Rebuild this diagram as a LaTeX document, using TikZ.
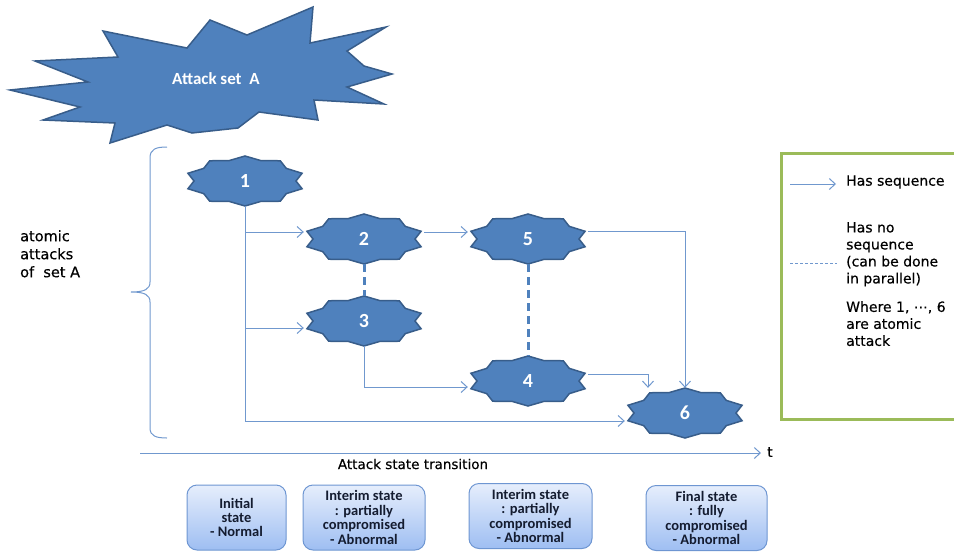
\documentclass[tikz,border=0pt]{standalone}
\usepackage{fontspec}
\usetikzlibrary{arrows.meta,calc}
\newfontfamily\carlito{Carlito}
\newfontfamily\dvs[FakeBold=0.4]{DejaVu Sans}
\definecolor{starblue}{RGB}{79,129,189}
\definecolor{stardark}{RGB}{56,93,138}
\definecolor{linkblue}{RGB}{112,152,206}
\definecolor{legendgreen}{RGB}{155,187,89}
\definecolor{boxtop}{RGB}{230,238,252}
\definecolor{boxbot}{RGB}{158,190,242}
\definecolor{boxedge}{RGB}{110,150,210}
\definecolor{boxtext}{RGB}{20,28,48}
\tikzset{
  conn/.style={draw=linkblue, line width=1pt, -{Straight Barb[length=6pt,width=11pt]}},
  par/.style={draw=starblue, line width=3pt, dash pattern=on 8pt off 5pt},
  legdash/.style={draw=linkblue, line width=1pt, dash pattern=on 3pt off 2pt},
  atomfill/.style={fill=starblue, draw=stardark, line width=1.5pt},
  atomnode/.style={rectangle, minimum width=120pt, minimum height=50pt, inner sep=0pt, text=white, font=\carlito\bfseries\fontsize{20}{22}\selectfont},
  burstfill/.style={fill=starblue, draw=stardark, line width=1.5pt},
  bursttext/.style={text=white, inner sep=0pt, font=\carlito\bfseries\fontsize{17}{20}\selectfont},
  statebox/.style={draw=boxedge, line width=1pt, rounded corners=10pt, top color=boxtop, bottom color=boxbot, minimum height=65pt, align=center, text=boxtext, inner sep=1pt, font=\carlito\bfseries\fontsize{14.5}{14.4}\selectfont},
  gulim/.style={font=\dvs\fontsize{14}{17}\selectfont, text=black, inner sep=0pt},
  bracestyle/.style={draw=linkblue, line width=1pt}
}
\newcommand\atomstar[3]{%
  \begin{scope}[shift={#2}]
    \filldraw[atomfill] (0,-25)
      \foreach \k [evaluate=\k as \rx using {isodd(\k)?51:60}, evaluate=\k as \ry using {isodd(\k)?21.5:25}] in {1,...,19} { -- ({\rx*cos(90+18*\k)},{-\ry*sin(90+18*\k)}) } -- cycle;
  \end{scope}
  \node[atomnode] (#1) at #2 {#3};
}
\begin{document}
\begin{tikzpicture}[x=1pt,y=-1pt]
\useasboundingbox (0,0) rectangle (954,555);

% attack set burst
\filldraw[burstfill] (10,90) -- (88,82) -- (35,61) -- (118,57) -- (103,31) -- (187,48) -- (210,20) -- (247,35) -- (313,7) -- (310,43) -- (386,27) -- (347,51) -- (364,66) -- (392,74) -- (347,87) -- (384,104) -- (314,100) -- (318,120) -- (259,112) -- (238,128) -- (192,133) -- (167,125) -- (110,143) -- (115,123) -- (43,120) -- (80,107) -- cycle;
\node[bursttext] (burst) at (216,79) {Attack set\hspace{4pt} A};

% brace
\draw[bracestyle] (167,147) .. controls (156,147) and (150,149) .. (150,158) -- (150,282) .. controls (150,289) and (145,292) .. (131,292) .. controls (145,292) and (150,295) .. (150,302) -- (150,428) .. controls (150,436) and (156,438) .. (167,438);
\node[gulim, font=\dvs\fontsize{14.5}{18}\selectfont, anchor=north west, align=left] (atk) at (20,230) {atomic\\attacks\\of\ \ set A};

% atomic attacks
\atomstar{s1}{(245,181)}{1}
\atomstar{s2}{(364,239)}{2}
\atomstar{s3}{(364,321)}{3}
\atomstar{s5}{(528,239)}{5}
\atomstar{s4}{(528,381)}{4}
\atomstar{s6}{(685,413)}{6}

% connectors
\coordinate (j2) at ([yshift=7pt]s2.west);
\coordinate (j3) at ([yshift=-7pt]s3.west);
\draw[conn] (s1.south) |- ([yshift=-8pt]s6.west);
\draw[conn] (s1.south |- j2) -- (j2);
\draw[conn] (s1.south |- j3) -- (j3);
\draw[conn] ([yshift=7pt]s2.east) -- ([yshift=7pt]s5.west);
\draw[conn] (s3.south) |- ([yshift=-6pt]s4.west);
\draw[conn] ([yshift=8pt]s5.east) -| (s6.north);
\draw[conn] ([yshift=7pt]s4.east) -| ([xshift=-37pt]s6.north);
\draw[par] (s2.south) -- (s3.north);
\draw[par] (s5.south) -- (s4.north);

% legend
\node[draw=legendgreen, line width=3pt, minimum width=182pt, minimum height=266pt, anchor=north west, inner sep=0pt] (legend) at (780,152) {};
\coordinate (la) at (790,184);
\coordinate (lb) at (836,184);
\draw[conn] (la) -- (lb);
\node[gulim, anchor=west] (lt1) at (846,182) {Has sequence};
\coordinate (ld1) at (790,263);
\coordinate (ld2) at (837,263);
\draw[legdash] (ld1) -- (ld2);
\node[gulim, anchor=north west, align=left] (lt2) at (846,222) {Has no\\sequence\\(can be done\\in parallel)};
\node[gulim, anchor=north west, align=left] (lt3) at (846,301) {Where 1, ⋯, 6\\are atomic\\attack};

% time axis
\coordinate (ax0) at (140,453);
\coordinate (ax1) at (761,453);
\draw[conn] (ax0) -- (ax1);
\node[gulim, anchor=west] (tl) at (767,452) {t};
\node[gulim, font=\dvs\fontsize{13.5}{16}\selectfont] (cap) at (413,464) {Attack state transition};

% state boxes
\node[statebox, minimum width=99pt] (b1) at (236.5,517.5) {Initial\\state\\- Normal};
\node[statebox, minimum width=122pt] (b2) at (364,517.5) {Interim state\\: partially\\compromised\\- Abnormal};
\node[statebox, minimum width=123pt] (b3) at (530.5,516) {Interim state\\: partially\\compromised\\- Abnormal};
\node[statebox, minimum width=121pt] (b4) at (706.5,518) {Final state\\: fully\\compromised\\- Abnormal};
\end{tikzpicture}
\end{document}
